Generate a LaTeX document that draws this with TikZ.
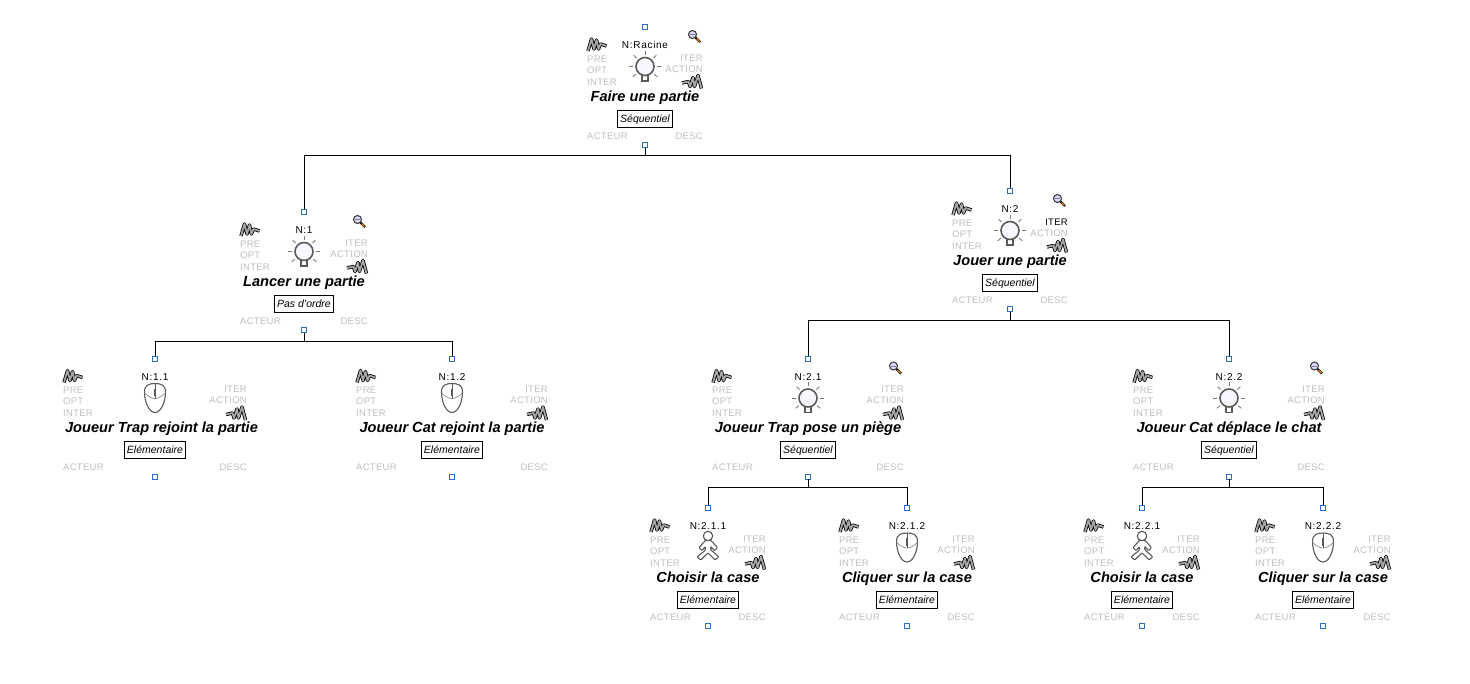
\documentclass[tikz,border=0pt]{standalone}
\usepackage{fontspec}
\setmainfont{Liberation Sans}
\newfontfamily\tagfont[LetterSpace=3]{Liberation Sans}
\newfontfamily\numfont[LetterSpace=7]{Liberation Sans}
\usetikzlibrary{positioning,
calc}
\definecolor{tagcolor}{HTML}{BEBEBE}
\definecolor{handlecolor}{HTML}{2F6DBF}
\definecolor{iconcolor}{HTML}{5A5A5A}
\tikzset{
tag/.style = {text=tagcolor, inner sep=0pt, font=\tagfont\fontsize{9.5}{10}\selectfont},
numlabel/.style = {inner sep=0pt, anchor=base, font=\numfont\fontsize{10}{10}\selectfont},
tasktitle/.style = {inner sep=0pt, anchor=base, font=\fontsize{14.6}{16}\selectfont\bfseries\itshape},
kindbox/.style = {rectangle, draw, line width=0.8pt, inner xsep=2.5pt, inner ysep=3pt, text height=9pt, text depth=2pt, font=\fontsize{10.5}{11}\selectfont\itshape},
handle/.style = {rectangle, draw=handlecolor, fill=white, line width=0.9pt, inner sep=0pt, minimum size=5pt},
link/.style = {line width=0.8pt},
pics/squiggleleft/.style = {code={
\draw[line width=0.8pt, double=gray!70, double distance=1.8pt, line join=round]
(-9,-6) -- (-5.5,6) -- (-3,-4) -- (-0.5,5) -- (1.5,-4) -- (3.5,1) -- (9.5,-1);
}},
pics/squiggleright/.style = {code={
\draw[line width=0.8pt, double=gray!70, double distance=1.8pt, line join=round]
(-10,-1) -- (-3.5,0.5) -- (-2,-4.5) -- (1,4.5) -- (2.5,-4.5) -- (6,6.5) -- (9.5,-6.5);
}},
pics/lens/.style = {code={
\draw[line width=2.4pt] (1.5,-1.5) -- (6,-6);
\draw[line width=1.2pt, orange!60!brown] (2.5,-2.5) -- (5.6,-5.6);
\draw[line width=1.1pt, draw=black!75, fill=blue!15] (-1.5,1.5) circle (4);
\draw[line width=0.8pt, gray] (-4,1.5) -- (1,1.5);
}},
pics/bulbicon/.style = {code={
\foreach \a in {0,45,90,135,180,-40,-140} {
\draw[line width=0.9pt, iconcolor!80] (\a:12) -- (\a:16);
}
\draw[line width=1.6pt, iconcolor] (-3,-7) rectangle (3,-14.5);
\draw[line width=1.6pt, iconcolor, fill=blue!3] (0,0) circle (9);
}},
pics/mouseicon/.style = {code={
\draw[line width=1.1pt, iconcolor, fill=white] (0,14.5)
.. controls (-6,14.5) and (-10.5,13) .. (-10.5,6)
.. controls (-10.5,-4) and (-6,-14.5) .. (0,-14.5)
.. controls (6,-14.5) and (10.5,-4) .. (10.5,6)
.. controls (10.5,13) and (6,14.5) .. (0,14.5) -- cycle;
\draw[line width=0.7pt, iconcolor!70] (-10.5,5) .. controls (-6,1) and (-3,-0.5) .. (0,-0.5) .. controls (3,-0.5) and (6,1) .. (10.5,5);
\draw[line width=0.7pt, iconcolor] (0,14.5) -- (0,-0.5);
\draw[line width=2pt, iconcolor] (0,9.5) -- (0,2);
}},
pics/walkicon/.style = {code={
\draw[line width=1.1pt, iconcolor, fill=white, rounded corners=1pt] (-2.3,7.3) -- (-9,0) -- (-6,-3.2) -- (-2.5,1) -- (-2.5,-2.7) -- (-11,-9.3) -- (-7.3,-12.5) -- (0,-5.3) -- (7,-12.5) -- (10.8,-9.3) -- (2.7,-2.2) -- (2.7,1.2) -- (6.5,-3.2) -- (9.5,0) -- (2.7,7.3) -- cycle;
\draw[line width=1.1pt, iconcolor, fill=white] (0,11.5) circle (4.7);
}}
}
\newcommand{\tasknode}[9]{
\begin{scope}[shift={(#2,-#3)}]
\node [handle] (#1T) at (0,0) {};
\node [handle] (#1B) at (0,-118) {};
\node [numlabel] (#1N) at (0,-21.5) {#5};
\node [tasktitle] (#1Title) at (0,-74) {#6};
\node [kindbox] (#1Kind) at (0,-91.5) {#7};
\node [tag, anchor=west] (#1Pre) at (-#4,-32) {PRE};
\node [tag, anchor=west] (#1Opt) at (-#4,-43) {OPT};
\node [tag, anchor=west] (#1Inter) at (-#4,-55) {INTER};
\node [tag, anchor=east, #9] (#1Iter) at (#4,-31) {ITER};
\node [tag, anchor=east] (#1Action) at (#4,-42) {ACTION};
\node [tag, anchor=west] (#1Acteur) at (-#4,-109) {ACTEUR};
\node [tag, anchor=east] (#1Desc) at (#4,-109) {DESC};
\coordinate (#1Lens) at ($(#4,-9)+(-9,0)$);
\pic at ($(-#4,-18)+(10,0)$) {squiggleleft};
\pic at ($(#4,-55)+(-11,0)$) {squiggleright};
\pic at (0,-39.5) {#8};
\end{scope}
}
\begin{document}
\begin{tikzpicture}[x=1pt,y=1pt]
\useasboundingbox (0,0) rectangle (1470,-683);

\tasknode{root}{645}{27}{58}{N:Racine}{Faire une partie}{Séquentiel}{bulbicon}{}
\tasknode{a}{304}{212}{64}{N:1}{Lancer une partie}{Pas d'ordre}{bulbicon}{}
\tasknode{b}{1010}{191}{58}{N:2}{Jouer une partie}{Séquentiel}{bulbicon}{text=black}
\begin{scope}[tasktitle/.append style={xshift=6.5pt}]
\tasknode{aa}{155}{358.5}{92}{N:1.1}{Joueur Trap rejoint la partie}{Elémentaire}{mouseicon}{}
\end{scope}
\tasknode{ab}{452}{358.5}{96}{N:1.2}{Joueur Cat rejoint la partie}{Elémentaire}{mouseicon}{}
\tasknode{ba}{808}{358.5}{96}{N:2.1}{Joueur Trap pose un piège}{Séquentiel}{bulbicon}{}
\tasknode{bb}{1229}{358.5}{96}{N:2.2}{Joueur Cat déplace le chat}{Séquentiel}{bulbicon}{}
\tasknode{baa}{708}{508}{58}{N:2.1.1}{Choisir la case}{Elémentaire}{walkicon}{}
\tasknode{bab}{907}{508}{68}{N:2.1.2}{Cliquer sur la case}{Elémentaire}{mouseicon}{}
\tasknode{bba}{1142}{508}{58}{N:2.2.1}{Choisir la case}{Elémentaire}{walkicon}{}
\tasknode{bbb}{1323}{508}{68}{N:2.2.2}{Cliquer sur la case}{Elémentaire}{mouseicon}{}

\pic at (rootLens) {lens};
\pic at (aLens) {lens};
\pic at (bLens) {lens};
\pic at (baLens) {lens};
\pic at (bbLens) {lens};

\coordinate (rootBus) at (645,-155);
\coordinate (aBus) at (304,-341);
\coordinate (bBus) at (1010,-320);
\coordinate (baBus) at (808,-487);
\coordinate (bbBus) at (1229,-487);

\draw[link] (rootB) -- (rootBus) -| (aT);
\draw[link] (rootBus) -| (bT);
\draw[link] (aB) -- (aBus) -| (aaT);
\draw[link] (aBus) -| (abT);
\draw[link] (bB) -- (bBus) -| (baT);
\draw[link] (bBus) -| (bbT);
\draw[link] (baB) -- (baBus) -| (baaT);
\draw[link] (baBus) -| (babT);
\draw[link] (bbB) -- (bbBus) -| (bbaT);
\draw[link] (bbBus) -| (bbbT);
\end{tikzpicture}
\end{document}
